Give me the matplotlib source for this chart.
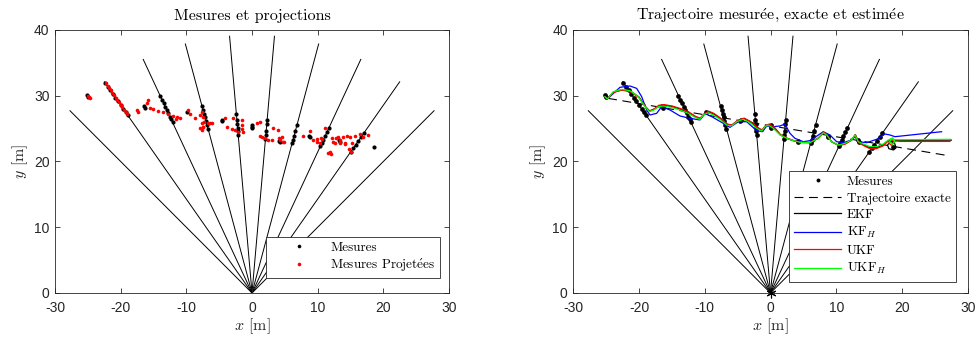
"""Mesures, projections et trajectoires estimées (EKF / UKF)."""

import numpy as np
import matplotlib

matplotlib.use("Agg")
from matplotlib import pyplot as plt
from matplotlib.lines import Line2D

plt.rcParams["mathtext.fontset"] = "cm"
plt.rcParams["axes.unicode_minus"] = False

SERIF = ["cmr10", "DejaVu Serif"]
SANS = ["Liberation Sans", "DejaVu Sans"]
AX_GREY = "0.15"
E_ACUTE = r"$\mathrm{\acute{e}}$"

# --- bearing rays from the sensor (deg) -------------------------------------
RAY_ANGLES_DEG = [45, 55, 65, 75, 85, 95, 105, 115, 125, 135]
RAY_LENGTH = 39.2

# --- raw measurements (black) -----------------------------------------------
MEAS_X = [
    -22.37, -22.0, -21.6, -21.2, -20.8, -20.4, -20.0, -19.6, -19.2, -18.9,
    -25.2, -25.0, -16.45, -16.3,
    -14.0, -13.7, -13.45, -13.2, -13.0, -12.75, -12.5, -12.3, -12.1,
    -9.85,
    -7.6, -7.45, -7.3, -7.15, -7.0, -6.85, -6.7,
    -4.5, -4.6,
    -2.38, -2.3, -2.25, -2.2, -2.15, -2.1,
    0.0, 0.0, 0.02,
    2.3, 2.25, 2.15, 2.1, 2.05,
    4.15, 4.2,
    6.85, 6.6, 6.4, 6.25, 6.1,
    8.73, 8.8,
    11.7, 11.4, 11.1, 10.85, 10.6, 10.4,
    13.25, 13.4,
    17.0, 16.6, 16.2, 15.8, 15.4, 15.0,
    18.58,
]
MEAS_Y = [
    31.95, 31.4, 30.85, 30.3, 29.7, 29.15, 28.6, 28.0, 27.45, 27.05,
    30.1, 29.8, 28.49, 28.2,
    30.0, 29.4, 28.85, 28.3, 27.9, 27.35, 26.8, 26.4, 26.0,
    27.48,
    28.4, 27.8, 27.25, 26.7, 26.1, 25.55, 25.0,
    26.3, 26.1,
    27.2, 26.3, 25.7, 25.15, 24.6, 24.0,
    25.6, 25.3, 25.1,
    26.3, 25.7, 24.6, 24.0, 23.4,
    23.1, 22.9,
    25.55, 24.65, 23.9, 23.3, 22.75,
    23.92, 23.75,
    25.1, 24.45, 23.8, 23.25, 22.75, 22.3,
    23.27, 23.0,
    24.3, 23.7, 23.15, 22.55, 22.0, 21.4,
    22.25,
]

# --- projected measurements (red) -------------------------------------------
PROJ_X = [
    -22.25, -22.0, -21.75, -21.5, -21.25, -21.0, -20.75, -20.5, -20.25, -20.0,
    -19.75, -19.5, -19.25, -19.0,
    -24.93, -24.8, -24.67, -17.56, -17.31,
    -15.79, -16.04, -15.53, -15.03, -14.27, -13.51, -12.75, -11.99, -11.38,
    -10.97, -11.5,
    -9.70, -9.44, -8.68, -7.92, -7.92, -7.51, -7.31, -7.66, -7.51, -7.66,
    -7.42, -7.66, -6.65, -6.14, -6.4,
    -4.11, -3.76, -3.09, -2.59, -2.94, -1.57, -1.57, -1.57, -1.32, -2.1,
    0.72, 1.22, 1.47, 1.98, 1.2, 2.49, 3.0, 3.25,
    4.0, 4.11, 4.52, 4.77, 4.3, 4.9,
    7.81, 8.83, 9.34, 9.95, 9.95, 10.46, 11.12,
    10.62, 10.36, 12.13, 12.79, 13.14, 13.90, 14.41, 14.92, 15.68, 16.44,
    16.94, 17.70, 12.28, 12.64, 13.40, 13.45, 14.16, 14.2, 15.18, 11.87,
    11.6, 12.0, 14.82, 15.0,
]
PROJ_Y = [
    31.9, 31.5, 31.15, 30.8, 30.45, 30.05, 29.7, 29.35, 29.0, 28.6,
    28.25, 27.9, 27.55, 27.15,
    30.01, 29.8, 29.61, 27.83, 27.57,
    29.35, 28.85, 28.09, 27.94, 27.68, 27.48, 27.18, 26.97, 26.81,
    26.57, 26.5,
    27.83, 27.18, 26.57, 27.07, 25.05, 25.30, 26.05, 27.57, 26.81, 25.81,
    25.30, 24.8, 25.81, 25.81, 25.9,
    26.66, 25.30, 24.94, 24.79, 26.57, 26.31, 25.55, 24.94, 24.53, 24.5,
    25.81, 25.96, 23.77, 23.62, 23.85, 23.27, 23.27, 25.05,
    24.85, 23.62, 23.77, 23.01, 23.3, 22.9,
    23.92, 24.64, 23.27, 23.42, 23.0, 23.62, 25.05,
    23.37, 22.86, 23.62, 23.52, 23.67, 23.67, 23.87, 23.77, 23.92, 24.18,
    23.67, 24.03, 23.01, 22.86, 22.76, 23.2, 22.86, 22.66, 22.76, 21.49,
    21.34, 21.2, 21.85, 21.5,
]

# --- exact trajectory -------------------------------------------------------
TRUE_X = [-24.7, -10.0, 5.0, 18.4, 27.3]
TRUE_Y = [29.6, 27.1, 24.6, 22.34, 20.84]

# --- estimated trajectories -------------------------------------------------
UKFH_X = [
    -25.18, -24.82, -23.91, -22.64, -21.38, -20.11, -19.10, -18.44, -17.73,
    -17.07, -16.31, -15.04, -13.77, -12.50, -11.49, -10.73, -10.22, -9.46,
    -8.70, -7.69, -6.67, -5.91, -5.15, -4.14, -3.12, -2.11, -1.35, -0.84,
    -0.34, 0.43, 1.44, 2.45, 3.47, 4.48, 6.00, 7.27, 8.03, 8.54, 9.30, 10.31,
    11.33, 12.34, 12.85, 13.35, 14.11, 15.13, 16.14, 17.16, 17.92, 18.6,
    18.9, 18.5, 18.1, 18.4, 19.69, 27.30,
]
UKFH_Y = [
    29.86, 29.50, 30.62, 30.97, 30.77, 29.86, 28.34, 27.58, 27.83, 28.34,
    28.44, 28.23, 27.83, 27.32, 26.71, 26.41, 27.07, 27.42, 27.07, 26.41,
    25.55, 25.40, 26.05, 26.41, 25.90, 25.04, 24.64, 25.29, 25.55, 25.04,
    24.03, 23.52, 23.17, 22.91, 22.86, 23.52, 24.38, 24.03, 23.01, 22.51,
    22.76, 23.27, 24.03, 23.01, 22.66, 22.25, 22.25, 22.66, 23.27, 23.6,
    23.0, 22.6, 23.0, 23.35, 23.3, 23.37,
]
UKF_X = [
    -25.18, -24.82, -23.9, -22.6, -21.3, -20.0, -19.0, -18.4, -17.7, -17.0,
    -16.2, -15.0, -13.7, -12.4, -11.4, -10.7, -10.1, -9.4, -8.6, -7.6, -6.6,
    -5.9, -5.0, -4.0, -3.0, -2.0, -1.3, -0.8, -0.2, 0.6, 1.5, 2.5, 3.5, 4.5,
    6.0, 7.3, 8.1, 8.6, 9.3, 10.3, 11.3, 12.3, 12.9, 13.4, 14.1, 15.1, 16.1,
    17.1, 17.8, 18.5, 18.8, 18.4, 18.0, 18.3, 19.7, 27.3,
]
UKF_Y = [
    29.86, 29.55, 30.5, 30.85, 30.6, 29.7, 28.3, 27.7, 28.0, 28.55,
    28.65, 28.45, 28.05, 27.5, 26.85, 26.6, 27.25, 27.65, 27.3, 26.6, 25.7,
    25.55, 26.25, 26.6, 26.05, 25.2, 24.8, 25.4, 25.7, 25.2,
    24.1, 23.55, 23.2, 22.95, 22.9, 23.6, 24.45, 24.05, 23.0, 22.45, 22.6,
    23.2, 24.1, 22.9, 22.45, 21.95, 21.95, 22.35, 23.0, 23.45, 22.9, 22.45,
    22.8, 23.2, 23.05, 23.05,
]
EKF_X = [
    -25.18, -24.82, -23.9, -22.6, -21.3, -20.0, -19.0, -18.4, -17.7, -17.0,
    -16.2, -15.0, -13.7, -12.4, -11.4, -10.7, -10.1, -9.4, -8.6, -7.6, -6.6,
    -5.9, -5.0, -4.0, -3.0, -2.0, -1.3, -0.8, -0.2, 0.6, 1.5, 2.5, 3.5, 4.5,
    6.0, 7.3, 8.1, 8.6, 9.3, 10.3, 11.3, 12.3, 12.9, 13.4, 14.1, 15.1, 16.1,
    17.1, 17.8, 18.3, 18.9, 19.1, 18.7, 18.0, 17.8, 18.2, 19.2, 27.5,
]
EKF_Y = [
    29.86, 29.55, 30.55, 30.9, 30.7, 29.8, 28.3, 27.65, 27.95, 28.45,
    28.55, 28.35, 27.95, 27.4, 26.8, 26.5, 27.15, 27.55, 27.2, 26.5, 25.65,
    25.5, 26.15, 26.5, 26.0, 25.1, 24.7, 25.35, 25.6, 25.1,
    24.05, 23.5, 23.15, 22.9, 22.85, 23.55, 24.4, 24.0, 23.0, 22.5, 22.7,
    23.25, 24.05, 22.95, 22.55, 22.1, 22.1, 22.5, 23.1, 23.1, 22.7, 22.1,
    21.75, 21.95, 22.5, 23.0, 23.2, 23.25,
]
KFH_X = [
    -25.18, -24.82, -22.9, -21.38, -20.36, -19.6, -18.84, -18.33, -17.32,
    -16.56, -15.29, -13.77, -12.25, -10.73, -9.97, -8.95, -7.18, -6.17,
    -4.90, -3.63, -2.11, -1.2, -0.59, 0.43, 1.44, 2.2, 2.96, 3.72, 4.99,
    6.0, 6.76, 8.03, 9.04, 10.06, 11.07, 12.34, 12.85, 13.35, 14.63, 16.14,
    17.41, 18.17, 18.93, 26.03,
]
KFH_Y = [
    29.86, 29.5, 31.28, 31.48, 31.12, 29.86, 27.83, 27.07, 27.32, 28.34,
    27.83, 26.92, 26.56, 26.31, 27.32, 26.82, 25.80, 25.19, 26.05, 26.05,
    24.69, 24.53, 25.40, 25.29, 25.40, 25.70, 24.28, 23.52, 23.01, 23.17,
    23.67, 24.53, 24.03, 23.01, 22.86, 23.27, 23.77, 23.01, 22.86, 23.37,
    24.18, 24.03, 23.77, 24.53,
]

ESTIMATES = [
    ("EKF", EKF_X, EKF_Y, "black"),
    ("KF$_H$", KFH_X, KFH_Y, (0, 0, 1)),
    ("UKF", UKF_X, UKF_Y, (1, 0, 0)),
    ("UKF$_H$", UKFH_X, UKFH_Y, (0, 1, 0)),
]

DASHES = (8, 5)


def style_axes(ax, title):
    ax.set_xlim(-30, 30)
    ax.set_ylim(0, 40)
    ax.set_xticks(np.arange(-30, 31, 10))
    ax.set_yticks(np.arange(0, 41, 10))
    ax.tick_params(direction="in", top=True, right=True, length=3.5,
                   width=0.6, color=AX_GREY, labelcolor=AX_GREY, labelsize=10)
    ax.tick_params(axis="x", pad=6)
    ax.tick_params(axis="y", pad=4)
    for lab in ax.get_xticklabels() + ax.get_yticklabels():
        lab.set_family(SANS)
    for sp in ax.spines.values():
        sp.set_color(AX_GREY)
        sp.set_linewidth(0.6)
    ax.set_title(title, family=SERIF, fontsize=11.5, color="black", pad=7)
    ax.set_xlabel(r"$x$ [m]", family=SERIF, fontsize=11.5, color=AX_GREY,
                  labelpad=1)
    ax.set_ylabel(r"$y$ [m]", family=SERIF, fontsize=11.5, color=AX_GREY,
                  labelpad=3)


def draw_rays(ax):
    for ang in np.deg2rad(RAY_ANGLES_DEG):
        ax.plot([0, RAY_LENGTH * np.cos(ang)], [0, RAY_LENGTH * np.sin(ang)],
                color="black", linewidth=0.7, zorder=1)


fig = plt.figure(figsize=(9.77, 3.41), dpi=100)
ax_l = fig.add_axes([0.0563, 0.1408, 0.4033, 0.7713])
ax_r = fig.add_axes([0.5868, 0.1408, 0.4037, 0.7713])

# left: measures and projections
draw_rays(ax_l)
ax_l.plot(MEAS_X, MEAS_Y, "o", color="black", markersize=3.0,
          markeredgewidth=0, zorder=3)
ax_l.plot(PROJ_X, PROJ_Y, "o", color=(1, 0, 0), markersize=2.6,
          markeredgewidth=0, zorder=4)
style_axes(ax_l, "Mesures et projections")
handles_l = [
    Line2D([], [], linestyle="none", marker="o", markersize=2.6,
           markeredgewidth=0, color="black", label="Mesures"),
    Line2D([], [], linestyle="none", marker="o", markersize=2.6,
           markeredgewidth=0, color=(1, 0, 0),
           label="Mesures Projet" + E_ACUTE + "es"),
]
leg = ax_l.legend(handles=handles_l, loc="lower right",
                  bbox_to_anchor=(0.977, 0.056), borderaxespad=0,
                  fancybox=False, edgecolor=AX_GREY, framealpha=1,
                  handlelength=4.2, handletextpad=0.3, borderpad=0.35,
                  labelspacing=0.2, prop={"family": SERIF, "size": 9.5})
leg.get_frame().set_linewidth(0.6)

# right: measured, exact and estimated trajectories
draw_rays(ax_r)
ax_r.plot(MEAS_X, MEAS_Y, "o", color="black", markersize=3.4,
          markeredgewidth=0, zorder=3)
ax_r.plot(TRUE_X, TRUE_Y, "--", color="black", linewidth=0.8,
          dashes=DASHES, zorder=4)
for name, xs, ys, color in ESTIMATES:
    ax_r.plot(xs, ys, color=color, linewidth=0.9, zorder=5)
ax_r.plot([0], [0], marker=(6, 2, 0), color="black", markersize=7,
          markeredgewidth=0.8, zorder=6, clip_on=False)
style_axes(ax_r, "Trajectoire mesur" + E_ACUTE + "e, exacte et estim"
           + E_ACUTE + "e")
handles_r = [
    Line2D([], [], linestyle="none", marker="o", markersize=2.8,
           markeredgewidth=0, color="black", label="Mesures"),
    Line2D([], [], linestyle="--", dashes=DASHES, color="black",
           linewidth=0.8, label="Trajectoire exacte"),
] + [Line2D([], [], color=c, linewidth=0.9, label=n)
     for n, _, _, c in ESTIMATES]
leg = ax_r.legend(handles=handles_r, loc="lower right",
                  bbox_to_anchor=(0.970, 0.043), borderaxespad=0,
                  fancybox=False, edgecolor=AX_GREY, framealpha=1,
                  handlelength=3.6, handletextpad=0.4, borderpad=0.4,
                  labelspacing=0.32, prop={"family": SERIF, "size": 9.5})
leg.get_frame().set_linewidth(0.6)

fig.savefig("out.png", dpi=100)
